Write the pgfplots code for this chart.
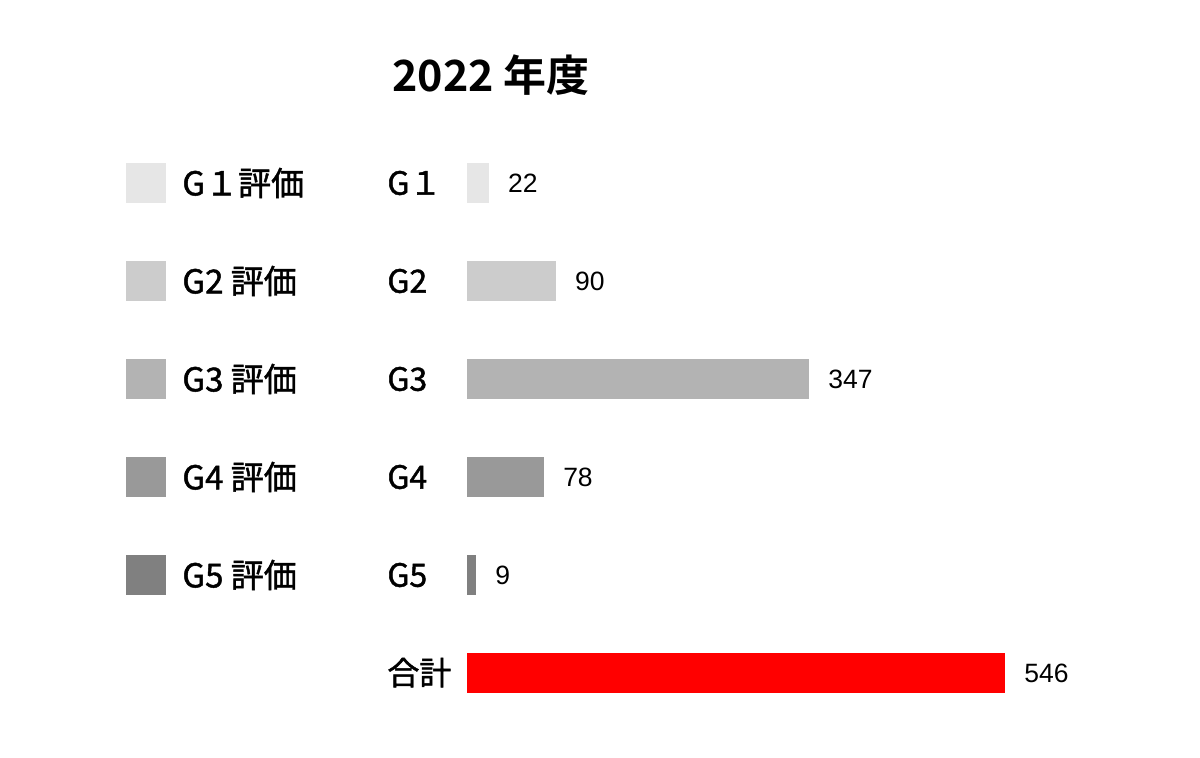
\documentclass[border=0pt]{standalone}
\usepackage{fontspec}
\usepackage{pgfplots}
\pgfplotsset{compat=1.18}
\setmainfont{Liberation Sans}
\newfontfamily\jp{Noto Sans CJK JP}[FakeBold=1.4]
\newfontfamily\jpb{Noto Sans CJK JP Bold}

\definecolor{gA}{HTML}{E6E6E6}
\definecolor{gB}{HTML}{CCCCCC}
\definecolor{gC}{HTML}{B3B3B3}
\definecolor{gD}{HTML}{999999}
\definecolor{gE}{HTML}{808080}
\definecolor{tot}{HTML}{FF0000}

\begin{document}
\begin{tikzpicture}
  % 1 px of the reference = 0.5pt; axis origin at pixel (467,722)
  \useasboundingbox (-233.5pt,-17.5pt) rectangle (366.5pt,361pt);
  \begin{axis}[
      at={(0pt,0pt)}, anchor=south west,
      scale only axis,
      width=269pt, height=294pt,
      xmin=0, xmax=546,
      ymin=-0.5, ymax=5.5,
      y dir=reverse,
      xbar,
      bar width=20pt,
      every axis plot/.append style={bar shift=0pt, draw=none},
      axis line style={draw=none},
      xtick=\empty,
      ytick={0,1,2,3,4,5},
      yticklabels={G１,G2,G3,G4,G5,合計},
      major tick length=0pt,
      tick style={draw=none},
      yticklabel style={anchor=west, xshift=-40pt, inner sep=0pt,
        font=\jp\fontsize{16}{18}\selectfont, text height=11.7pt, text depth=0pt},
      /pgf/number format/assume math mode=true,
      nodes near coords,
      nodes near coords style={anchor=west, inner sep=0pt, xshift=9.5pt,
        font=\fontsize{13.25}{15}\selectfont, text height=9.5pt, text depth=0pt, black},
      title={2022 年度},
      title style={at={(axis description cs:-0.1394,1.0782)}, anchor=west,
        inner sep=0pt, font=\jpb\fontsize{21.5}{23}\selectfont,
        text height=15.7pt, text depth=0pt},
      legend image code/.code={\fill[#1] (0pt,-10pt) rectangle (20pt,10pt);},
      legend style={at={(axis description cs:-0.6338,0.9507)}, anchor=north west,
        draw=none, fill=none, inner sep=0pt, row sep=29pt, column sep=8pt,
        font=\jp\fontsize{16.5}{18}\selectfont,
        nodes={inner sep=0pt, text height=12pt, text depth=0pt}},
      legend cell align=left,
    ]
    \addplot[fill=gA] coordinates {(22,0)};
    \addplot[fill=gB] coordinates {(90,1)};
    \addplot[fill=gC] coordinates {(347,2)};
    \addplot[fill=gD] coordinates {(78,3)};
    \addplot[fill=gE] coordinates {(9,4)};
    \addplot[fill=tot, forget plot] coordinates {(546,5)};
    \legend{G１評価,G2 評価,G3 評価,G4 評価,G5 評価}
  \end{axis}
\end{tikzpicture}
\end{document}
